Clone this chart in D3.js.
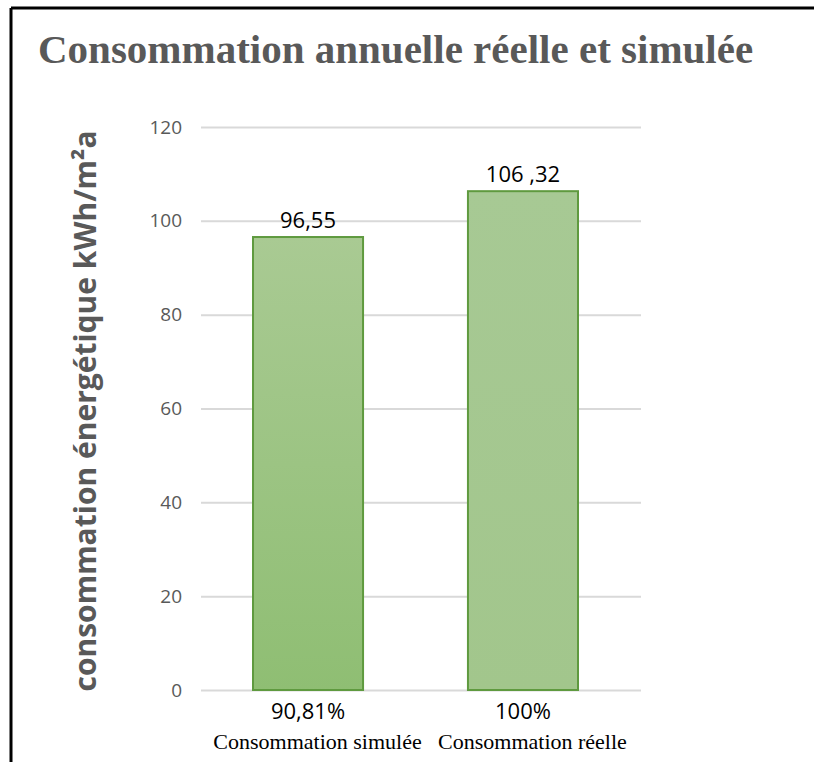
<!DOCTYPE html>
<html>
<head>
<meta charset="utf-8">
<script src="https://cdn.jsdelivr.net/npm/d3@7"></script>
<style>
  html, body { margin: 0; padding: 0; background: #fff; }
  svg { display: block; }
</style>
</head>
<body>
<svg id="chart" width="814" height="762"></svg>
<script>
// Annual energy consumption: simulated vs measured (kWh/m²a)
const categories = ["Consommation simulée", "Consommation réelle"];
const values = [96.55, 106.32];
const valueLabels = ["96,55", "106 ,32"];
const shareLabels = ["90,81%", "100%"];
const yTicks = [0, 20, 40, 60, 80, 100, 120];

const svg = d3.select("#chart");
const W = 814, H = 762;
const sans = "'Open Sans', 'Noto Sans', sans-serif";
const serif = "'Liberation Serif', 'Times New Roman', serif";

// outer frame (top and left edges)
svg.append("line").attr("x1", 11).attr("x2", W).attr("y1", 8).attr("y2", 8)
  .attr("stroke", "#000").attr("stroke-width", 3);
svg.append("line").attr("x1", 11).attr("x2", 11).attr("y1", 8).attr("y2", H)
  .attr("stroke", "#000").attr("stroke-width", 3);

// title
svg.append("text")
  .attr("x", 38).attr("y", 63)
  .attr("font-family", serif)
  .attr("font-weight", "bold")
  .attr("font-size", 41)
  .attr("fill", "#595959")
  .text("Consommation annuelle réelle et simulée");

const plot = { left: 201, right: 641, top: 127, bottom: 690 };

const y = d3.scaleLinear().domain([0, 120]).range([plot.bottom, plot.top]);
const x = d3.scaleBand().domain(categories).range([253, 578]).paddingInner(0.488).paddingOuter(0);

// gridlines
const grid = svg.append("g")
  .attr("transform", `translate(${plot.left},0)`)
  .call(d3.axisLeft(y).tickValues(yTicks).tickSize(-(plot.right - plot.left)).tickFormat(""));
grid.select(".domain").remove();
grid.selectAll(".tick line").attr("stroke", "#d9d9d9").attr("stroke-width", 2);

// y tick labels
const yAxis = svg.append("g")
  .attr("transform", `translate(${plot.left - 19},0)`)
  .call(d3.axisLeft(y).tickValues(yTicks).tickSize(0).tickPadding(0));
yAxis.select(".domain").remove();
yAxis.selectAll("text")
  .attr("font-family", sans)
  .attr("font-size", 19)
  .attr("fill", "#595959");

// bar gradients
const defs = svg.append("defs");
const gradStops = [["#a9ca93", "#8fbe73"], ["#a7c994", "#a2c68c"]];
gradStops.forEach((s, i) => {
  const g = defs.append("linearGradient").attr("id", "barGrad" + i)
    .attr("x1", 0).attr("y1", 0).attr("x2", 0).attr("y2", 1);
  g.append("stop").attr("offset", "0%").attr("stop-color", s[0]);
  g.append("stop").attr("offset", "100%").attr("stop-color", s[1]);
});

// bars
svg.append("g").selectAll("rect")
  .data(values)
  .join("rect")
  .attr("x", (d, i) => x(categories[i]))
  .attr("y", d => y(d))
  .attr("width", x.bandwidth())
  .attr("height", d => y(0) - y(d))
  .attr("fill", (d, i) => `url(#barGrad${i})`)
  .attr("stroke", "#5f9a3f")
  .attr("stroke-width", 2);

// value labels
svg.append("g").selectAll("text")
  .data(values)
  .join("text")
  .attr("x", (d, i) => x(categories[i]) + x.bandwidth() / 2)
  .attr("y", d => y(d) - 9)
  .attr("text-anchor", "middle")
  .attr("font-family", sans)
  .attr("font-size", 22)
  .attr("fill", "#000")
  .text((d, i) => valueLabels[i]);

// share labels under bars
svg.append("g").selectAll("text")
  .data(shareLabels)
  .join("text")
  .attr("x", (d, i) => x(categories[i]) + x.bandwidth() / 2)
  .attr("y", 719)
  .attr("text-anchor", "middle")
  .attr("font-family", sans)
  .attr("font-size", 22)
  .attr("fill", "#000")
  .text(d => d);

// category labels
svg.append("g").selectAll("text")
  .data(categories)
  .join("text")
  .attr("x", d => x(d) + x.bandwidth() / 2 + 9.5)
  .attr("y", 749)
  .attr("text-anchor", "middle")
  .attr("font-family", serif)
  .attr("font-size", 22)
  .attr("fill", "#000")
  .text(d => d);

// y axis title
svg.append("text")
  .attr("transform", `translate(96, 411) rotate(-90)`)
  .attr("text-anchor", "middle")
  .attr("font-family", sans)
  .attr("font-weight", "bold")
  .attr("font-size", 30)
  .attr("fill", "#595959")
  .text("consommation énergétique kWh/m²a");
</script>
</body>
</html>
